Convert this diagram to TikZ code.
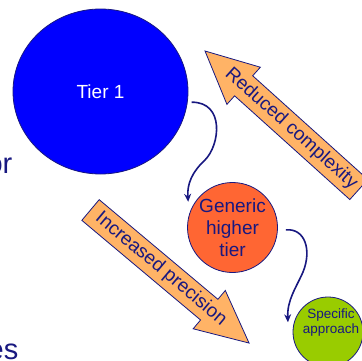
\documentclass[tikz,border=0pt]{standalone}
\usepackage{fontspec}
\setmainfont{Liberation Sans}
\usetikzlibrary{arrows.meta,shapes.geometric}

\definecolor{navy}{RGB}{24,24,128}
\definecolor{tierblue}{RGB}{0,0,255}
\definecolor{tierorange}{RGB}{255,102,51}
\definecolor{tiergreen}{RGB}{153,204,0}
\definecolor{fatfill}{RGB}{255,179,102}

\begin{document}
\begin{tikzpicture}[
  x=1pt, y=1pt,
  font=\fontsize{19}{22}\selectfont,
  tier/.style={draw=navy, line width=0.8pt, align=center, inner sep=0pt},
  fat/.style={draw=navy, line width=0.8pt, fill=fatfill},
  fattext/.style={text=navy, transform shape},
  flow/.style={-{Stealth[length=8pt,width=7pt]}, draw=navy, line width=1.6pt},
  side/.style={anchor=base east, inner sep=0pt, text=navy, font=\fontsize{29}{34}\selectfont}
]
\useasboundingbox (0,0) rectangle (362,360);
\clip (0,0) rectangle (362,360);

% cut-off slide text at the left
\node[side] (or) at (12.5,187) {or};
\node[side] (es) at (18.5,1) {es};

% fat arrows
\begin{scope}[shift={(205,309)}, rotate=-42]
  \draw[fat] (0,0) -- (52,25) -- (52,13.5) -- (207,13.5) -- (207,-13.5) -- (52,-13.5) -- (52,-25) -- cycle;
  \node[fattext] (complexity) at (116,0) {Reduced complexity};
\end{scope}
\begin{scope}[shift={(90.5,150)}, rotate=-40]
  \draw[fat] (0,-13.5) -- (155,-13.5) -- (155,-25) -- (207,0) -- (155,25) -- (155,13.5) -- (0,13.5) -- cycle;
  \node[fattext] (precision) at (92,0) {Increased precision};
\end{scope}

% tiers
\node[tier, ellipse, fill=tierblue, text=white, minimum width=175pt, minimum height=165pt] (tier1) at (100.5,268.5) {Tier 1};
\node[tier, circle, fill=tierorange, text=navy, minimum size=90pt] (generic) at (232.5,132.5) {Generic\\higher\\tier};
\node[tier, circle, fill=tiergreen, minimum size=70pt] (specific) at (328,28) {};
\node[text=navy, align=center, font=\fontsize{13.5}{15}\selectfont] (specific-text) at (331,37.8) {Specific\\approach};

% curved links
\draw[flow] ([xshift=4pt]tier1.-7) .. controls (225,258) and (220,215) .. (205,200)
  .. controls (192,188) and (187,176) .. ([shift={(-5pt,3pt)}]generic.150);
\draw[flow] ([xshift=8pt]generic.-3) .. controls (305,132) and (312,110) .. (303,88)
  .. controls (296,72) and (287,60) .. ([xshift=-6pt]specific.164);

\end{tikzpicture}
\end{document}
